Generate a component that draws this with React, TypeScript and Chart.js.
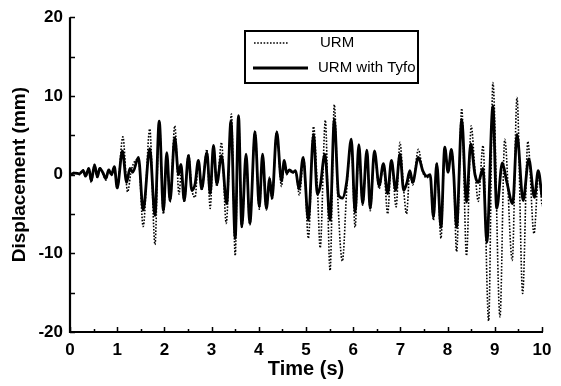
import React, { useEffect, useRef } from "react";
import { Chart, registerables } from "chart.js";

Chart.register(...registerables);

// ---- Data ----
const urmTime = [
  0, 0.1, 0.2, 0.28, 0.33, 0.4, 0.45, 0.52, 0.58, 0.63, 0.7, 0.76, 0.82, 0.88, 0.94, 1.0,
  1.12, 1.22, 1.3, 1.45, 1.55, 1.69, 1.8, 1.89, 1.98, 2.05, 2.12, 2.22, 2.31, 2.36, 2.42,
  2.51, 2.58, 2.65, 2.72, 2.79, 2.9, 2.97, 3.04, 3.11, 3.21, 3.31, 3.42, 3.5, 3.57, 3.64,
  3.73, 3.81, 3.92, 4.01, 4.08, 4.16, 4.23, 4.28, 4.38, 4.48, 4.54, 4.59, 4.65, 4.72, 4.78,
  4.86, 4.95, 5.05, 5.16, 5.24, 5.3, 5.41, 5.51, 5.6, 5.68, 5.77, 5.87, 5.96, 6.04, 6.12,
  6.2, 6.29, 6.36, 6.45, 6.55, 6.64, 6.73, 6.81, 6.91, 6.99, 7.07, 7.13, 7.2, 7.26, 7.38,
  7.48, 7.56, 7.63, 7.7, 7.77, 7.86, 7.94, 8.01, 8.08, 8.13, 8.19, 8.3, 8.4, 8.5, 8.58,
  8.65, 8.75, 8.87, 8.96, 9.11, 9.21, 9.37, 9.47, 9.59, 9.7, 9.83, 9.93, 10,
];
const urmDisp = [
  0, 0.3, 0, 0.6, -0.3, 0.9, -1.0, 1.3, -0.4, 0.9, 0.1, -0.7, 0.7, -0.1, 1.0, -1.8,
  4.8, -2.2, 0.6, 2.0, -6.6, 5.8, -8.9, 6.8, -5.0, 2.5, -3.5, 6.2, -2.5, 0.5, -3.5,
  2.6, -1.8, -2.9, 1.6, -2.0, 3.2, -4.3, 3.5, -1.5, 4.1, -6.2, 7.7, -10.3, 7.3, -6.8,
  2.4, -6.4, 5.6, -4.4, 2.4, -4.5, -0.3, -3.2, 5.5, -1.5, 1.6, 0, 0.5, 0.2, 0.4,
  -2.6, 2.2, -8.1, 6.1, -1.5, -9.3, 6.9, -12.2, 8.9, -3.8, -11.0, -1.2, 4.3, -6.7, 3.6,
  -3.9, 3.0, -4.6, 2.8, -1.8, 1.2, -5.0, 1.8, -4.1, 4.1, -2.0, -5.0, 0.3, -1.3, 3.2,
  0.2, -0.4, -0.2, -5.8, 1.5, -8.1, 3.5, 0.4, 3.2, 0, -9.8, 8.4, -10.3, 6.2, 0.5,
  -3.4, 3.7, -18.6, 11.7, -18.1, 4.5, -10.9, 9.8, -15.1, 4.2, -7.5, 0, -4.0,
];

const tyfoTime = [
  0, 0.1, 0.2, 0.28, 0.33, 0.4, 0.45, 0.52, 0.58, 0.63, 0.7, 0.76, 0.82, 0.88, 0.94, 1.0,
  1.11, 1.2, 1.27, 1.33, 1.45, 1.55, 1.69, 1.8, 1.89, 1.98, 2.05, 2.12, 2.22, 2.3, 2.35,
  2.42, 2.51, 2.58, 2.65, 2.72, 2.79, 2.9, 2.97, 3.04, 3.11, 3.21, 3.32, 3.41, 3.5, 3.57,
  3.64, 3.73, 3.81, 3.92, 4.01, 4.08, 4.16, 4.23, 4.28, 4.38, 4.48, 4.54, 4.59, 4.65, 4.72,
  4.78, 4.85, 4.94, 5.05, 5.16, 5.24, 5.3, 5.4, 5.51, 5.6, 5.69, 5.77, 5.86, 5.96, 6.04,
  6.12, 6.2, 6.29, 6.36, 6.45, 6.55, 6.64, 6.73, 6.81, 6.9, 6.99, 7.07, 7.14, 7.2, 7.26,
  7.38, 7.48, 7.56, 7.63, 7.7, 7.77, 7.86, 7.94, 8.01, 8.08, 8.13, 8.19, 8.3, 8.4, 8.49,
  8.58, 8.65, 8.75, 8.83, 8.96, 9.04, 9.16, 9.25, 9.38, 9.47, 9.6, 9.72, 9.84, 9.92, 10,
];
const tyfoDisp = [
  0, 0.2, 0.1, 0.5, -0.2, 0.8, -0.8, 1.2, -0.3, 0.8, 0.2, -0.5, 0.6, 0, 1.0, -1.7,
  3.0, -1.0, 0.8, 0.3, 2.2, -4.5, 3.3, -5.2, 6.8, -4.6, 2.8, -3.3, 4.7, 0, 1.3,
  -3.3, 2.4, -2.0, -1.2, 1.8, -1.8, 2.8, -2.4, 3.7, -1.2, 2.4, -3.7, 6.8, -8.1, 7.5,
  -6.6, 2.6, -6.2, 5.4, -4.1, 2.6, -4.3, -0.5, -3.0, 5.4, -0.8, 1.8, 0.2, 0.6, 0.3,
  0.5, -1.8, 2.2, -5.8, 5.1, -2.5, -1.5, 2.6, -5.8, 7.0, -2.6, -3.0, -1.0, 4.5, -4.8,
  3.8, -3.7, 3.1, -4.3, 3.0, -1.4, 1.4, -2.4, 1.8, -2.0, 2.6, -2.0, -1.0, 0.5, -1.0,
  2.2, 0.4, -0.2, 0, -5.4, 1.4, -6.7, 3.5, 0.3, 3.2, 0, -6.7, 7.0, -3.5, 3.9,
  0, -1.0, 0.8, -8.6, 8.7, -4.3, 1.5, -0.8, -3.7, 5.1, -3.3, 2.0, -2.9, 0.5, -2.8,
];

const xMin = 0;
const xMax = 10;
const yMin = -20;
const yMax = 20;
const xStep = 1;
const yStep = 10;
const seriesLabels = ["URM", "URM with Tyfo"];
const xTitle = "Time (s)";
const yTitle = "Displacement (mm)";

const FONT = "'Liberation Sans', Arial, Helvetica, sans-serif";

const axesPlugin = {
  id: "customAxes",
  afterDatasetsDraw(chart: any) {
    const { ctx, chartArea, scales } = chart;
    const { left, right, top, bottom } = chartArea;
    const xs = scales.x;
    const ys = scales.y;
    ctx.save();
    ctx.strokeStyle = "#000";
    ctx.setLineDash([]);
    ctx.lineWidth = 1.5;
    ctx.beginPath();
    for (let v = xMin; v <= xMax + 1e-9; v += xStep / 2) {
      const px = Math.round(xs.getPixelForValue(v)) + 0.5;
      const major = Math.abs(v - Math.round(v)) < 1e-6;
      ctx.moveTo(px, bottom);
      ctx.lineTo(px, bottom - (major ? 5 : 3));
    }
    for (let v = yMin; v <= yMax + 1e-9; v += yStep / 2) {
      const py = Math.round(ys.getPixelForValue(v)) + 0.5;
      ctx.moveTo(left, py);
      ctx.lineTo(left + 5, py);
    }
    ctx.stroke();
    ctx.lineWidth = 2.2;
    ctx.beginPath();
    ctx.moveTo(left, top);
    ctx.lineTo(left, bottom);
    ctx.lineTo(right + 1, bottom);
    ctx.stroke();
    ctx.restore();
  },
};

const legendPlugin = {
  id: "customLegend",
  afterDraw(chart: any) {
    const { ctx } = chart;
    const bx = 245, by = 31, bw = 173, bh = 52;
    ctx.save();
    ctx.fillStyle = "#fff";
    ctx.fillRect(bx, by, bw, bh);
    ctx.strokeStyle = "#000";
    ctx.lineWidth = 2;
    ctx.setLineDash([]);
    ctx.strokeRect(bx, by, bw, bh);
    // dotted sample
    ctx.lineWidth = 1.6;
    ctx.setLineDash([1.6, 1.6]);
    ctx.beginPath();
    ctx.moveTo(bx + 9, by + 12);
    ctx.lineTo(bx + 44, by + 12);
    ctx.stroke();
    // solid sample
    ctx.setLineDash([]);
    ctx.lineWidth = 2.8;
    ctx.beginPath();
    ctx.moveTo(bx + 8, by + 37);
    ctx.lineTo(bx + 63, by + 37);
    ctx.stroke();
    ctx.fillStyle = "#000";
    ctx.font = `15px ${FONT}`;
    ctx.textBaseline = "middle";
    ctx.textAlign = "left";
    ctx.fillText(seriesLabels[0], bx + 75, by + 12);
    ctx.fillText(seriesLabels[1], bx + 73, by + 37);
    ctx.restore();
  },
};

export default function App() {
  const ref = useRef<HTMLCanvasElement>(null);
  useEffect(() => {
    const canvas = ref.current;
    if (!canvas) return;
    const chart = new Chart(canvas, {
      type: "line",
      data: {
        datasets: [
          {
            label: seriesLabels[1],
            data: tyfoTime.map((t, i) => ({ x: t, y: tyfoDisp[i] })),
            borderColor: "#000",
            borderWidth: 2.8,
            pointRadius: 0,
            fill: false,
            cubicInterpolationMode: "monotone",
            order: 0,
          },
          {
            label: seriesLabels[0],
            data: urmTime.map((t, i) => ({ x: t, y: urmDisp[i] })),
            borderColor: "#000",
            borderWidth: 1.6,
            borderDash: [1.6, 1.6],
            pointRadius: 0,
            fill: false,
            cubicInterpolationMode: "monotone",
            order: 1,
          },
        ],
      },
      options: {
        responsive: false,
        animation: false,
        devicePixelRatio: 1,
        layout: { padding: { left: 0, right: 19, top: 16, bottom: 0 } },
        plugins: { legend: { display: false }, tooltip: { enabled: false } },
        scales: {
          x: {
            type: "linear",
            min: xMin,
            max: xMax,
            afterFit: (s: any) => {
              s.height = 54;
            },
            grid: { display: false, drawTicks: false },
            border: { display: false },
            ticks: {
              stepSize: xStep,
              padding: 8,
              color: "#000",
              maxRotation: 0,
              font: { family: FONT, size: 17, weight: "bold" },
            },
            title: {
              display: true,
              text: xTitle,
              color: "#000",
              padding: { top: 0, bottom: 5 },
              font: { family: FONT, size: 20, weight: "bold" },
            },
          },
          y: {
            type: "linear",
            min: yMin,
            max: yMax,
            afterFit: (s: any) => {
              s.width = 70;
            },
            grid: { display: false, drawTicks: false },
            border: { display: false },
            ticks: {
              stepSize: yStep,
              padding: 7,
              color: "#000",
              font: { family: FONT, size: 17, weight: "bold" },
            },
            title: {
              display: true,
              text: yTitle,
              color: "#000",
              padding: { top: 8, bottom: 0 },
              font: { family: FONT, size: 19, weight: "bold" },
            },
          },
        },
      },
      plugins: [axesPlugin, legendPlugin],
    } as any);
    return () => chart.destroy();
  }, []);

  return (
    <div style={{ position: "fixed", left: 0, top: 0, width: 561, height: 386, background: "#fff" }}>
      <canvas ref={ref} width={561} height={386} style={{ width: 561, height: 386, display: "block" }} />
    </div>
  );
}
